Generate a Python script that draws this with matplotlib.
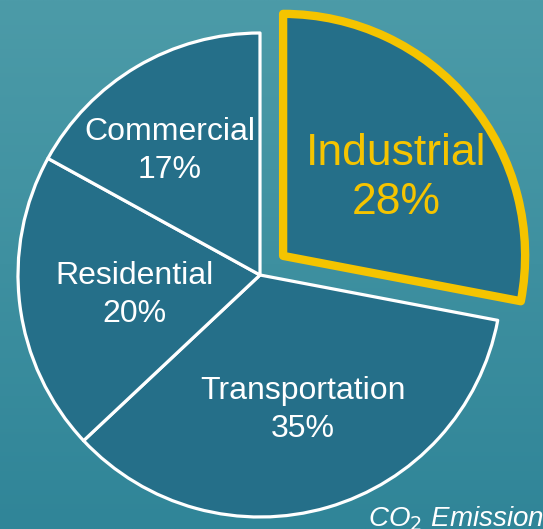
import matplotlib
matplotlib.use('Agg')
import matplotlib.pyplot as plt
import numpy as np

# Data
sectors = ['Industrial', 'Transportation', 'Residential', 'Commercial']
shares = [28, 35, 20, 17]
highlight = 'Industrial'

# Style
W, H = 543, 529
bg_top = np.array([76, 155, 168]) / 255.
bg_bottom = np.array([48, 133, 152]) / 255.
wedge_color = '#256f89'
yellow = '#f5c400'
# small label nudges (pixels) to match the original layout
nudge = {'Industrial': (5, -12), 'Transportation': (4, 0),
         'Residential': (14, -2), 'Commercial': (-19, 3)}

plt.rcParams['font.family'] = ['Liberation Sans', 'DejaVu Sans']

fig = plt.figure(figsize=(W / 100., H / 100.), dpi=100)
ax = fig.add_axes([0, 0, 1, 1])

# background gradient (sky)
t = np.linspace(0, 1, 200)[:, None, None]
grad = bg_top * (1 - t) + bg_bottom * t
grad = np.repeat(grad, 2, axis=1)
ax.imshow(grad, extent=(0, W, 0, H), aspect='auto', zorder=0,
          interpolation='bilinear')

labels = ['%s\n%d%%' % (s, v) for s, v in zip(sectors, shares)]
explode = [30 if s == highlight else 0 for s in sectors]

wedges, texts = ax.pie(shares, labels=labels, explode=explode,
                       center=(260, 254), radius=242, startangle=90,
                       counterclock=False, labeldistance=0.58,
                       colors=[wedge_color] * len(shares),
                       wedgeprops=dict(edgecolor='white', linewidth=2.3,
                                       joinstyle='round', zorder=2),
                       textprops=dict(color='white', fontsize=23,
                                      ha='center', va='center',
                                      linespacing=1.35))

for s, w, txt in zip(sectors, wedges, texts):
    if s == highlight:
        w.set_edgecolor(yellow)
        w.set_linewidth(6)
        w.set_zorder(3)
        txt.set_color(yellow)
        txt.set_fontsize(32)
        txt.set_linespacing(1.25)
    x, y = txt.get_position()
    dx, dy = nudge[s]
    txt.set_position((x + dx, y + dy))
    txt.set_zorder(4)

ax.text(368, 3, 'CO$_2$ Emissions', color='white', fontsize=20,
        style='italic', ha='left', va='baseline', zorder=5)

ax.set_xlim(0, W)
ax.set_ylim(0, H)
ax.set_aspect('equal')
ax.axis('off')

fig.savefig('out.png', dpi=100)
